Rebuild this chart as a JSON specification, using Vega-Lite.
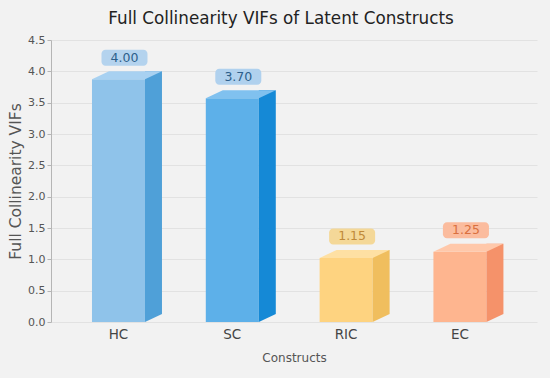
{
  "$schema": "https://vega.github.io/schema/vega-lite/v6.json",
  "width": 486,
  "height": 282,
  "autosize": {"type": "none"},
  "padding": {"left": 51, "top": 40, "right": 13, "bottom": 56},
  "background": "#f2f2f2",
  "config": {
    "view": {"stroke": null},
    "font": "DejaVu Sans",
    "axisY": {"labelOverlap": false, "labelFontSize": 11, "labelColor": "#555555", "tickSize": 4, "tickColor": "#b5b5b5", "domainColor": "#b5b5b5", "gridColor": "#e2e2e2", "titleFontSize": 15.5, "titleFontWeight": "normal", "titleColor": "#555555", "titlePadding": 4},
    "axisX": {"labelAngle": 0, "labelFontSize": 13.5, "labelColor": "#444444", "ticks": false, "domain": false, "labelPadding": 5, "titleFontSize": 12, "titleFontWeight": "normal", "titleColor": "#555555", "titlePadding": 12}
  },
  "title": {"text": "Full Collinearity VIFs of Latent Constructs", "fontSize": 16.8, "fontWeight": "normal", "color": "#222222", "anchor": "middle", "offset": 6, "dx": -13},
  "data": {"values": [
    {"construct": "HC", "vif": 4.00},
    {"construct": "SC", "vif": 3.70},
    {"construct": "RIC", "vif": 1.15},
    {"construct": "EC", "vif": 1.25}
  ]},
  "encoding": {
    "x": {
      "field": "construct", "type": "nominal", "sort": null,
      "scale": {"paddingInner": 0, "paddingOuter": 0.135, "align": 0.344},
      "axis": {"title": "Constructs"}
    },
    "y": {"field": "vif", "type": "quantitative", "scale": {"domain": [0, 4.5], "nice": false},
      "axis": {"title": "Full Collinearity VIFs", "values": [0, 0.5, 1, 1.5, 2, 2.5, 3, 3.5, 4, 4.5], "format": ".1f", "labelOverlap": false}}
  },
  "layer": [
    {
      "mark": {"type": "bar", "width": 53, "yOffset": 8},
      "encoding": {
        "y2": {"datum": 0},
        "color": {"field": "construct", "type": "nominal", "legend": null, "scale": {"domain": ["HC", "SC", "RIC", "EC"], "range": ["#8fc3ea", "#5db0e9", "#fed380", "#feb58f"]}}
      }
    },
    {
      "mark": {"type": "bar", "width": 17, "xOffset": 35, "y2Offset": -8},
      "encoding": {
        "y2": {"datum": 0},
        "color": {"field": "construct", "type": "nominal", "legend": null, "scale": {"domain": ["HC", "SC", "RIC", "EC"], "range": ["#4fa0d8", "#1589d6", "#f0be5e", "#f5926a"]}}
      }
    },
    {
      "mark": {"type": "point", "filled": true, "opacity": 1, "size": 4, "strokeWidth": 0, "shape": "M26.5,-8 L43.5,-8 L26.5,0 Z"},
      "encoding": {
        "y": {"datum": 0, "type": "quantitative"},
        "color": {"field": "construct", "type": "nominal", "legend": null, "scale": {"domain": ["HC", "SC", "RIC", "EC"], "range": ["#4fa0d8", "#1589d6", "#f0be5e", "#f5926a"]}}
      }
    },
    {
      "mark": {"type": "point", "filled": true, "opacity": 1, "size": 4, "strokeWidth": 0, "shape": "M-26.5,8 L26.5,8 L43.5,0 L-9.5,0 Z"},
      "encoding": {
        "color": {"field": "construct", "type": "nominal", "legend": null, "scale": {"domain": ["HC", "SC", "RIC", "EC"], "range": ["#a8d1f1", "#80c1ef", "#fee0a3", "#ffc8aa"]}}
      }
    },
    {
      "mark": {"type": "point", "filled": true, "opacity": 1, "size": 4, "strokeWidth": 0, "shape": "M-13,-21.5 H25 A4,4 0 0 1 29,-17.5 V-9.5 A4,4 0 0 1 25,-5.5 H-13 A4,4 0 0 1 -17,-9.5 V-17.5 A4,4 0 0 1 -13,-21.5 Z"},
      "encoding": {
        "color": {"field": "construct", "type": "nominal", "legend": null, "scale": {"domain": ["HC", "SC", "RIC", "EC"], "range": ["#b4d3ee", "#b0d1ee", "#f4d898", "#fbbc9e"]}}
      }
    },
    {
      "mark": {"type": "text", "fontSize": 12.5, "xOffset": 6, "yOffset": -13.5, "baseline": "middle", "align": "center"},
      "encoding": {
        "text": {"field": "vif", "type": "quantitative", "format": ".2f"},
        "color": {"field": "construct", "type": "nominal", "legend": null, "scale": {"domain": ["HC", "SC", "RIC", "EC"], "range": ["#2d5f8b", "#2d5f8b", "#c08a38", "#d9703f"]}}
      }
    }
  ],
  "resolve": {"scale": {"color": "independent"}}
}
